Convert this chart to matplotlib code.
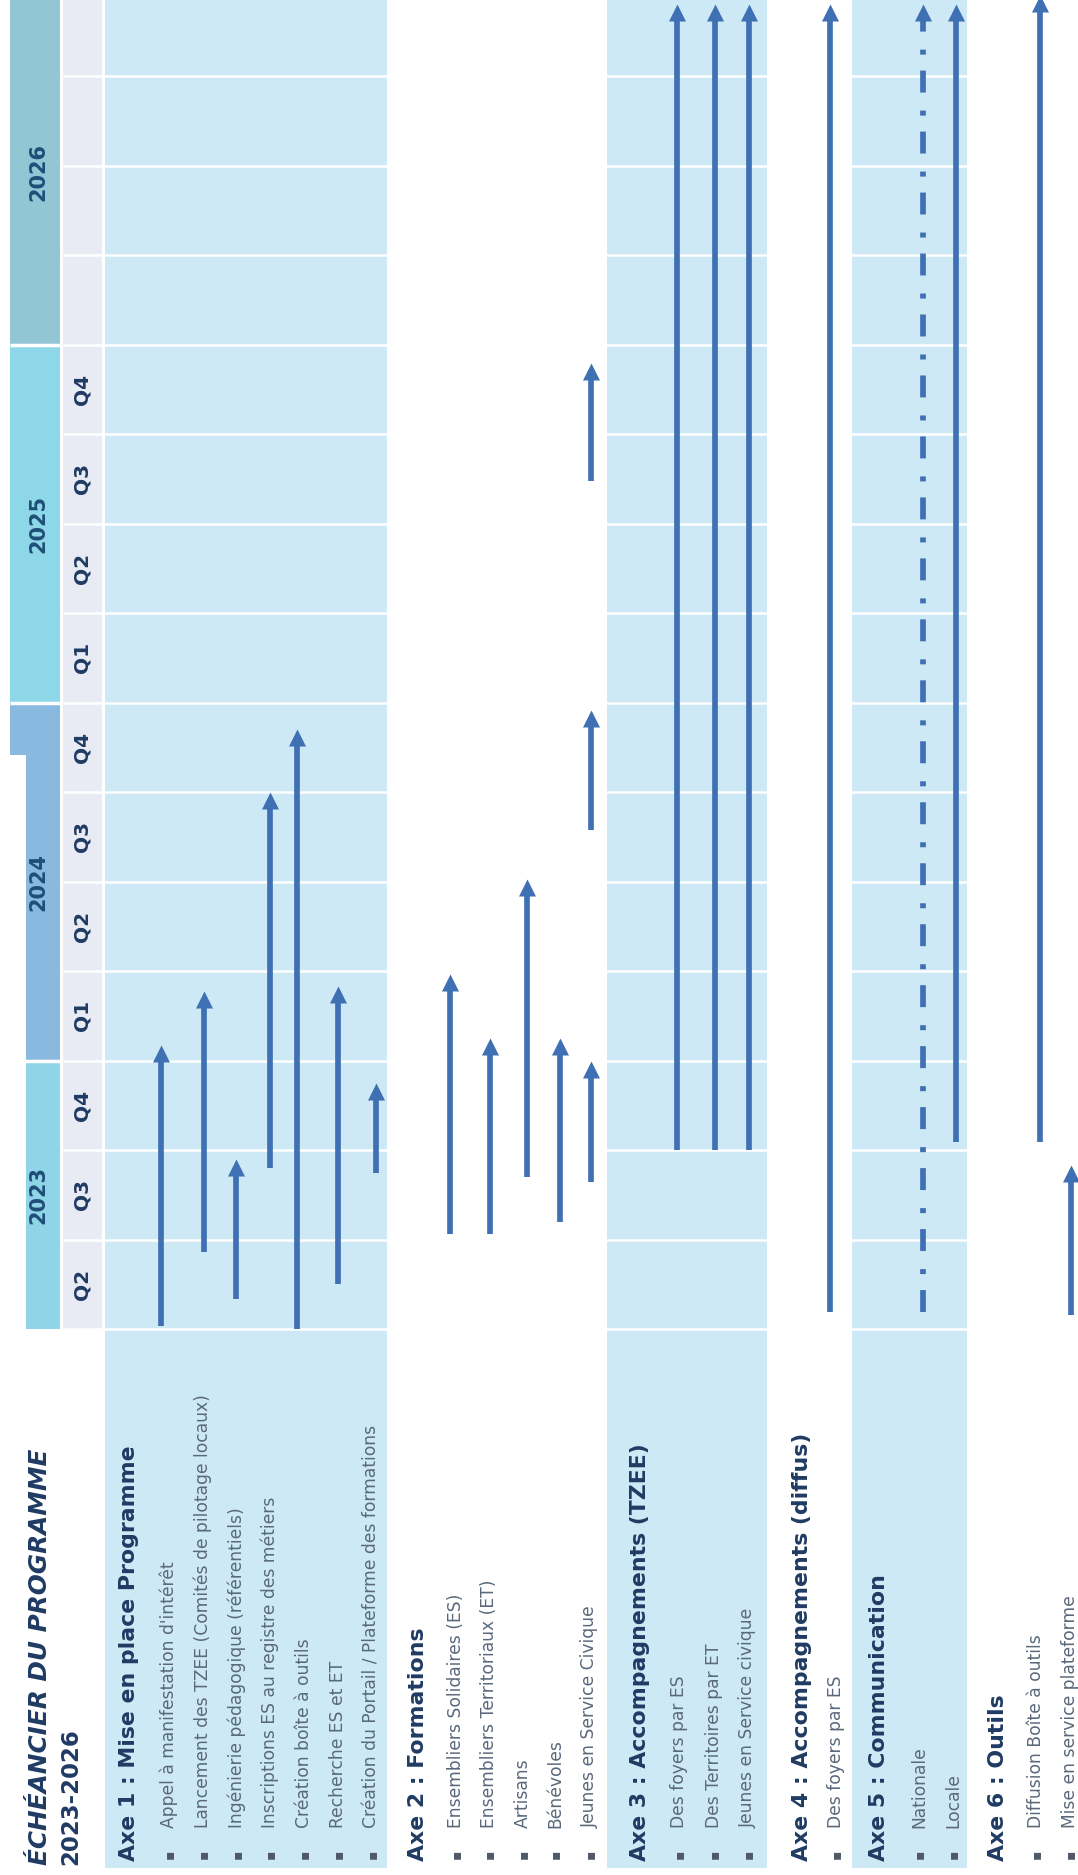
import matplotlib
matplotlib.use("Agg")
import matplotlib.pyplot as plt
from matplotlib.path import Path

# ---- donnees (temps en trimestres, 0 = debut 2023-T2) ----
annees = ["2023", "2024", "2025", "2026"]
annee_debut = [0, 3, 7, 11]
annee_fin = [3, 7, 11, 15]
trimestres = ["Q2", "Q3", "Q4", "Q1", "Q2", "Q3", "Q4", "Q1", "Q2", "Q3", "Q4"]

titre = "ÉCHÉANCIER DU PROGRAMME"
sous_titre = "2023-2026"

axes_titres = [
    "Axe 1 : Mise en place Programme",
    "Axe 2 : Formations",
    "Axe 3 : Accompagnements (TZEE)",
    "Axe 4 : Accompagnements (diffus)",
    "Axe 5 : Communication",
    "Axe 6 : Outils",
]

axe1_taches = ["Appel à manifestation d'intérêt",
               "Lancement des TZEE (Comités de pilotage locaux)",
               "Ingénierie pédagogique (référentiels)",
               "Inscriptions ES au registre des métiers",
               "Création boîte à outils",
               "Recherche ES et ET",
               "Création du Portail / Plateforme des formations"]
axe1_debut = [0.03, 0.86, 0.33, 1.80, 0.00, 0.50, 1.74]
axe1_fin = [3.17, 3.78, 1.90, 6.00, 6.70, 3.83, 2.75]

axe2_taches = ["Ensembliers Solidaires (ES)", "Ensembliers Territoriaux (ET)",
               "Artisans", "Bénévoles", "Jeunes en Service Civique"]
axe2_debut = [1.06, 1.06, 1.70, 1.20, 1.64]
axe2_fin = [3.97, 3.25, 5.03, 3.25, 3.00]
# reprises pour les jeunes en service civique
jeunes_reprise_debut = [5.57, 9.47]
jeunes_reprise_fin = [6.92, 10.79]

axe3_taches = ["Des foyers par ES", "Des Territoires par ET", "Jeunes en Service civique"]
axe3_debut = [2.00, 2.00, 2.00]
axe3_fin = [14.80, 14.80, 14.80]

axe4_taches = ["Des foyers par ES"]
axe4_debut = [0.19]
axe4_fin = [14.80]

axe5_taches = ["Nationale", "Locale"]
axe5_debut = [0.19, 2.09]
axe5_fin = [14.80, 14.80]

axe6_taches = ["Diffusion Boîte à outils", "Mise en service plateforme"]
axe6_debut = [2.09, 0.16]
axe6_fin = [14.90, 1.83]

taches = [axe1_taches, axe2_taches, axe3_taches, axe4_taches, axe5_taches, axe6_taches]
debuts = [axe1_debut, axe2_debut, axe3_debut, axe4_debut, axe5_debut, axe6_debut]
fins = [axe1_fin, axe2_fin, axe3_fin, axe4_fin, axe5_fin, axe6_fin]

# ---- mise en page (pixels) ----
W, H = 1078, 1875
Y0, PXQ = 1329, 89.5          # debut 2023-T2 et pixels par trimestre


def t_px(y):
    # position verticale en pixels -> trimestres
    return (Y0 - y) / PXQ


header_x = [129, 418, 640, 802, 879, 998]
item_x = [[169, 203, 237, 270, 304, 338, 372],
          [456, 489, 523, 555, 590],
          [679, 714, 748],
          [836],
          [919, 953],
          [1036, 1070]]
fleche_x = [[161, 204, 236, 270, 297, 338, 376],
            [450, 490, 527, 560, 591],
            [677, 715, 749],
            [830],
            [923, 956],
            [1040, 1071]]
bandes = [(105, 387), (607, 767), (852, 967)]

BANDE = "#cde9f5"
GRIS = "#e8ebf3"
FLECHE = "#4070b4"
NAVY = "#1f3b63"
ANNEE_TXT = "#1f4e79"
TXT = "#5a687b"
couleurs_annee = ["#8fd4e7", "#8ab9df", "#8ed7e9", "#93c6d4"]
annee_gauche = [26, 26, 10, 10]

plt.rcParams["font.family"] = ["DejaVu Sans"]
plt.rcParams["lines.scale_dashes"] = False

fig = plt.figure(figsize=(W / 100, H / 100), dpi=100)
ax = fig.add_axes([0, 0, 1, 1])
ax.set_xlim(0, W)
ax.set_ylim(t_px(H), t_px(0))
ax.axis("off")

# bandes de fond des axes
for x0, x1 in bandes:
    ax.axvspan(x0, x1, ymin=(H - 1868) / H, ymax=1, color=BANDE, lw=0, zorder=0)

# colonne des trimestres
ax.bar(63, 16, width=39, bottom=0, align="edge", color=GRIS, lw=0, zorder=1)

# bandes des annees
for i, a in enumerate(annees):
    ax.bar(annee_gauche[i], annee_fin[i] - annee_debut[i] + (1 if i == 3 else 0),
           width=60 - annee_gauche[i], bottom=annee_debut[i], align="edge",
           color=couleurs_annee[i], lw=0, zorder=1)
    ax.text(38, (annee_debut[i] + min(annee_fin[i], 14.86)) / 2, a, rotation=90,
            ha="center", va="center", fontsize=15, fontweight="bold",
            color=ANNEE_TXT, zorder=5)
# petit debord de la bande 2024
ax.bar(10, annee_fin[1] - t_px(755), width=16, bottom=t_px(755), align="edge",
       color=couleurs_annee[1], lw=0, zorder=1)

# separateurs
ax.hlines(range(0, 15), 63, W, colors="white", lw=1.8, zorder=2)
ax.hlines(annee_debut[1:], 10, 60, colors="white", lw=2.5, zorder=2)

for i, q in enumerate(trimestres):
    ax.text(82, i + 0.5, q, rotation=90, ha="center", va="center",
            fontsize=14.5, fontweight="bold", color=NAVY, zorder=5)

# fleches
tete = Path([(0, 0), (-0.5, -1), (0.5, -1), (0, 0)])
recul = 9 / PXQ


def fleche(x, d, f, style="-"):
    kw = dict(color=FLECHE, lw=4.1, solid_capstyle="butt", zorder=4)
    if style == "dashdot":
        kw["dashes"] = (15.8, 11.5, 3.6, 13)
    ax.plot([x, x], [d, f - recul], **kw)
    ax.plot([x], [f], marker=tete, markersize=24.5, color=FLECHE,
            markeredgewidth=0, zorder=4)


for k in range(6):
    for j in range(len(taches[k])):
        style = "dashdot" if (k == 4 and j == 0) else "-"
        fleche(fleche_x[k][j], debuts[k][j], fins[k][j], style)
for d, f in zip(jeunes_reprise_debut, jeunes_reprise_fin):
    fleche(fleche_x[1][4], d, f)

# textes
ax.text(40, t_px(1865), titre, rotation=90, rotation_mode="anchor", ha="left",
        va="center", fontsize=17.8, fontweight="bold", fontstyle="italic", color=NAVY)
ax.text(71, t_px(1865), sous_titre, rotation=90, rotation_mode="anchor", ha="left",
        va="center", fontsize=16.5, fontweight="bold", color=NAVY)

for k in range(6):
    ax.text(header_x[k], t_px(1861), axes_titres[k], rotation=90,
            rotation_mode="anchor", ha="left", va="center", fontsize=15.8,
            fontweight="bold", color=NAVY, zorder=5)
    for j, lab in enumerate(taches[k]):
        ax.text(item_x[k][j], t_px(1854), "▪", rotation=90, rotation_mode="anchor",
                ha="center", va="center", fontsize=10, color="#4f5866", zorder=5)
        ax.text(item_x[k][j], t_px(1828), lab, rotation=90, rotation_mode="anchor",
                ha="left", va="center", fontsize=12.3, color=TXT, zorder=5)

fig.savefig("out.png", dpi=100)
